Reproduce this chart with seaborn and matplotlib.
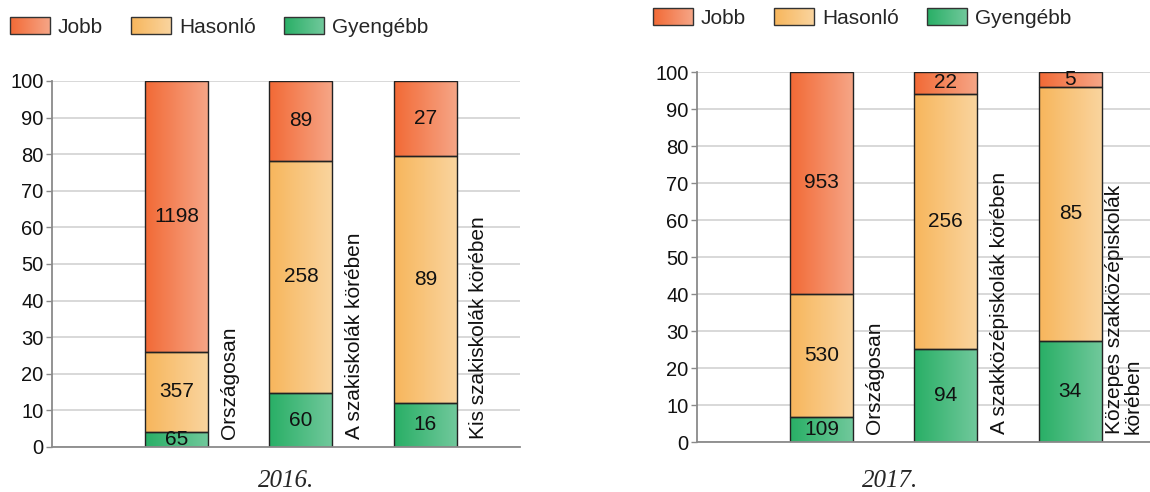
import matplotlib
matplotlib.use("Agg")
import matplotlib.pyplot as plt
import numpy as np
import pandas as pd
import seaborn as sns
from matplotlib.colors import LinearSegmentedColormap
from matplotlib.patches import Patch, Rectangle
from matplotlib.legend_handler import HandlerBase
from matplotlib.image import BboxImage
from matplotlib.transforms import Bbox, TransformedBbox

# ---- data ----
series = ["Jobb", "Hasonló", "Gyengébb"]
year_labels = ["2016.", "2017."]
groups_2016 = ["Országosan", "A szakiskolák körében", "Kis szakiskolák körében"]
groups_2017 = ["Országosan", "A szakközépiskolák körében",
               "Közepes szakközépiskolák\nkörében"]
jobb_2016 = [1198, 89, 27]
hasonlo_2016 = [357, 258, 89]
gyengebb_2016 = [65, 60, 16]
jobb_2017 = [953, 22, 5]
hasonlo_2017 = [530, 256, 85]
gyengebb_2017 = [109, 94, 34]
yticks = list(range(0, 101, 10))

# left -> right gradient colours of each series
grad = {
    "Jobb": ("#F26A36", "#F6A586"),
    "Hasonló": ("#F7B65C", "#FAD49E"),
    "Gyengébb": ("#29AF66", "#70C89B"),
}
cmaps = {k: LinearSegmentedColormap.from_list(k, v) for k, v in grad.items()}
ramp = np.linspace(0, 1, 64).reshape(1, -1)

sns.set_theme(style="white")
plt.rcParams["font.family"] = ["Liberation Sans", "DejaVu Sans"]

fig = plt.figure(figsize=(11.5, 4.92), dpi=100)
ax1 = fig.add_axes([0.0452, 0.0915, 0.407, 0.744])
ax2 = fig.add_axes([0.606, 0.1016, 0.394, 0.752])


class GradHandler(HandlerBase):
    def create_artists(self, legend, orig_handle, xdescent, ydescent,
                       width, height, fontsize, trans):
        bb = TransformedBbox(Bbox.from_bounds(-xdescent, -ydescent, width, height), trans)
        img = BboxImage(bb, cmap=cmaps[orig_handle.get_label()], interpolation="bilinear")
        img.set_data(ramp)
        rect = Rectangle((-xdescent, -ydescent), width, height, facecolor="none",
                         edgecolor="#333333", linewidth=1.0, transform=trans)
        return [img, rect]


def draw_panel(ax, groups, jobb, hasonlo, gyengebb, xmax, blank_gaps):
    pos = np.array([1, 2, 3])
    total = np.array(jobb) + np.array(hasonlo) + np.array(gyengebb)
    bottom = np.zeros(3)
    for name, counts in [("Gyengébb", gyengebb), ("Hasonló", hasonlo), ("Jobb", jobb)]:
        pct = np.array(counts) / total * 100
        df = pd.DataFrame({"pos": pos, "pct": pct})
        sns.barplot(data=df, x="pos", y="pct", native_scale=True, orient="x",
                    bottom=bottom, width=0.506, color=grad[name][0],
                    edgecolor="#222222", linewidth=1.0, ax=ax)
        cont = ax.containers[-1]
        for p in cont.patches:
            x, y = p.get_x(), p.get_y()
            w, h = p.get_width(), p.get_height()
            im = ax.imshow(ramp, cmap=cmaps[name], extent=[x, x + w, y, y + h],
                           aspect="auto", zorder=1.1, interpolation="bilinear")
            im.set_clip_path(p)
            p.set_facecolor("none")
            p.set_zorder(1.2)
        ax.bar_label(cont, labels=[str(c) for c in counts], label_type="center",
                     fontsize=15, color="#111111")
        bottom = bottom + pct

    if blank_gaps:
        bars = ax.containers[0].patches
        for a, b in zip(bars[:-1], bars[1:]):
            ax.axvspan(a.get_x() + a.get_width(), b.get_x(), ymax=0.994,
                       color="white", zorder=0.8, linewidth=0)

    for x, g in zip(pos, groups):
        ax.text(x + 0.43, 2.2, g, rotation=90, ha="center", va="bottom",
                multialignment="left", linespacing=1.0, fontsize=15, color="#111111")

    ax.set_xlim(0, xmax)
    ax.set_ylim(0, 100)
    ax.set_yticks(yticks)
    ax.set_xticks([])
    ax.set_xlabel("")
    ax.set_ylabel("")
    ax.yaxis.grid(True, color="#d6d6d6", linewidth=1.3)
    ax.set_axisbelow(True)
    for s in ["top", "right"]:
        ax.spines[s].set_visible(False)
    for s in ["left", "bottom"]:
        ax.spines[s].set_color("#8a8a8a")
        ax.spines[s].set_linewidth(1.3)
    ax.tick_params(axis="y", left=True, length=4, width=1, color="#8a8a8a",
                   labelsize=14.5, labelcolor="#111111", pad=2)


draw_panel(ax1, groups_2016, jobb_2016, hasonlo_2016, gyengebb_2016, 3.76, True)
draw_panel(ax2, groups_2017, jobb_2017, hasonlo_2017, gyengebb_2017, 3.64, False)

handles = [Patch(label=s) for s in series]
for anchor in [(6 / 1150, 1 - 27 / 492), (649 / 1150, 1 - 18 / 492)]:
    fig.legend(handles=handles, loc="center left", bbox_to_anchor=anchor,
               ncol=3, frameon=False, fontsize=15, handlelength=1.92,
               handleheight=0.82, handletextpad=0.38, columnspacing=1.35,
               borderpad=0.2, borderaxespad=0,
               handler_map={Patch: GradHandler()})

fig.text(0.249, 1 - 481 / 492, year_labels[0], ha="center", va="center",
         family="Liberation Serif", style="italic", fontsize=18)
fig.text(0.774, 1 - 481 / 492, year_labels[1], ha="center", va="center",
         family="Liberation Serif", style="italic", fontsize=18)

fig.savefig("out.png", dpi=100)
